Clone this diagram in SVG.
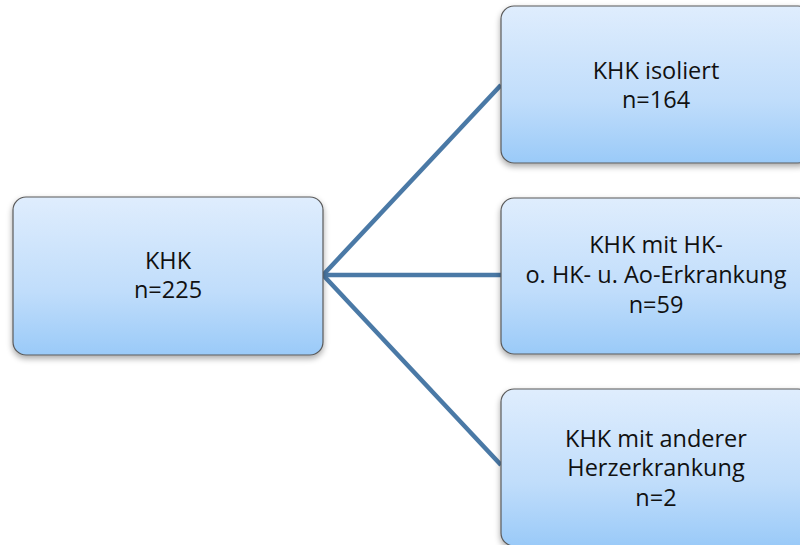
<svg xmlns="http://www.w3.org/2000/svg" width="800" height="545" viewBox="0 0 800 545">
  <defs>
    <linearGradient id="boxFill" x1="0" y1="0" x2="0" y2="1">
      <stop offset="0" stop-color="#dfedfd"/>
      <stop offset="0.6" stop-color="#c0ddfb"/>
      <stop offset="1" stop-color="#9acaf8"/>
    </linearGradient>
    <filter id="shadow" x="-10%" y="-10%" width="120%" height="130%">
      <feGaussianBlur in="SourceAlpha" stdDeviation="3"/>
      <feOffset dx="0" dy="3" result="b"/>
      <feComponentTransfer><feFuncA type="linear" slope="0.35"/></feComponentTransfer>
      <feMerge><feMergeNode/><feMergeNode in="SourceGraphic"/></feMerge>
    </filter>
  </defs>
  <style>
    .box { fill: url(#boxFill); stroke: #5a5a5a; stroke-width: 1.2; filter: url(#shadow); }
    .lbl { font-family: "Open Sans", "Liberation Sans", sans-serif; font-size: 23.5px; fill: #111; text-anchor: middle; }
    .conn { stroke: #4a79a6; stroke-width: 4.5; fill: none; }
  </style>
  <rect width="800" height="545" fill="#ffffff"/>

  <g id="connectors">
    <line class="conn" x1="323" y1="275" x2="501" y2="85"/>
    <line class="conn" x1="323" y1="275" x2="501" y2="275"/>
    <line class="conn" x1="323" y1="275" x2="501" y2="465"/>
  </g>

  <g id="node-khk">
    <rect class="box" x="13" y="197" width="310" height="158" rx="13"/>
    <text class="lbl" x="168" y="269">KHK</text>
    <text class="lbl" x="168" y="298">n=225</text>
  </g>

  <g id="node-isoliert">
    <rect class="box" x="501" y="6" width="310" height="157" rx="13"/>
    <text class="lbl" x="656" y="79">KHK isoliert</text>
    <text class="lbl" x="656" y="108">n=164</text>
  </g>

  <g id="node-hk-ao">
    <rect class="box" x="501" y="198" width="310" height="156" rx="13"/>
    <text class="lbl" x="656" y="253">KHK mit HK-</text>
    <text class="lbl" x="656" y="283">o. HK- u. Ao-Erkrankung</text>
    <text class="lbl" x="656" y="313">n=59</text>
  </g>

  <g id="node-andere">
    <rect class="box" x="501" y="389" width="310" height="157" rx="13"/>
    <text class="lbl" x="656" y="447">KHK mit anderer</text>
    <text class="lbl" x="656" y="476">Herzerkrankung</text>
    <text class="lbl" x="656" y="506">n=2</text>
  </g>
</svg>
